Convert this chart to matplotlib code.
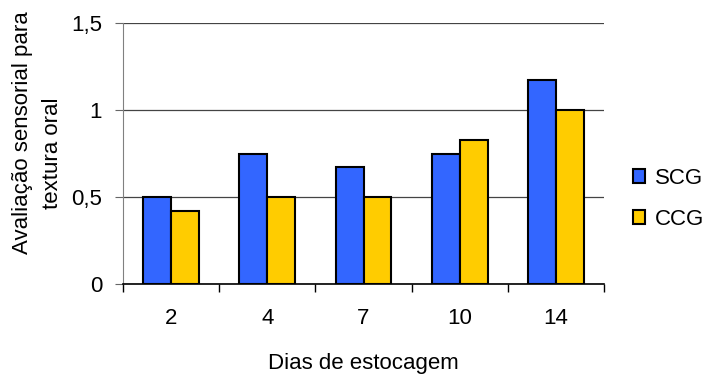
from matplotlib import pyplot as plt
import numpy as np

dias = ["2", "4", "7", "10", "14"]
scg = [0.5, 0.75, 0.67, 0.75, 1.17]
ccg = [0.42, 0.5, 0.5, 0.83, 1.0]
yticks = [0, 0.5, 1, 1.5]
ytick_labels = ["0", "0,5", "1", "1,5"]

plt.rcParams["font.family"] = ["Liberation Sans", "DejaVu Sans"]
tick_sz = 16
label_sz = 16

fig = plt.figure(figsize=(7.08, 3.74), dpi=100)
ax = fig.add_axes([123/708, 1 - 284/374, (604-123)/708, (284-23)/374])

x = np.arange(len(dias))
w = 0.29
ax.bar(x - w/2, scg, w, color="#3366FF", edgecolor="black", linewidth=1.5,
       label="SCG", zorder=3)
ax.bar(x + w/2, ccg, w, color="#FFCC00", edgecolor="black", linewidth=1.5,
       label="CCG", zorder=3)

ax.set_xlim(-0.5, len(dias) - 0.5)
ax.set_ylim(0, 1.5)
ax.set_yticks(yticks)
ax.set_yticklabels(ytick_labels, fontsize=tick_sz)
ax.set_xticks(x)
ax.set_xticklabels(dias, fontsize=tick_sz)
ax.tick_params(axis="x", which="major", length=0, pad=17)
ax.set_xticks(np.arange(-0.5, len(dias)), minor=True)
ax.tick_params(axis="x", which="minor", length=5.5, width=1, color="black")
ax.tick_params(axis="y", length=6, color="#666666", pad=9)

ax.yaxis.grid(True, color="#444444", linewidth=0.9)
ax.set_axisbelow(True)
for s in ["top", "right"]:
    ax.spines[s].set_visible(False)
ax.spines["left"].set_color("#808080")
ax.spines["bottom"].set_color("black")
ax.spines["bottom"].set_linewidth(1.2)

# axis titles
fig.text(363/708, 1 - 363/374, "Dias de estocagem", fontsize=label_sz,
         ha="center", va="center")
fig.text(23/708, 1 - 133/374, "Avaliação sensorial para", fontsize=label_sz,
         rotation=90, ha="center", va="center")
fig.text(52/708, 1 - 153/374, "textura oral", fontsize=label_sz,
         rotation=90, ha="center", va="center")

ax.legend(loc="center left", bbox_to_anchor=(633/708, 1 - 199/374),
          bbox_transform=fig.transFigure, frameon=False, borderpad=0,
          borderaxespad=0, fontsize=label_sz, handlelength=0.55,
          handleheight=0.55, handletextpad=0.45, labelspacing=0.9)

fig.savefig("out.png", dpi=100)
